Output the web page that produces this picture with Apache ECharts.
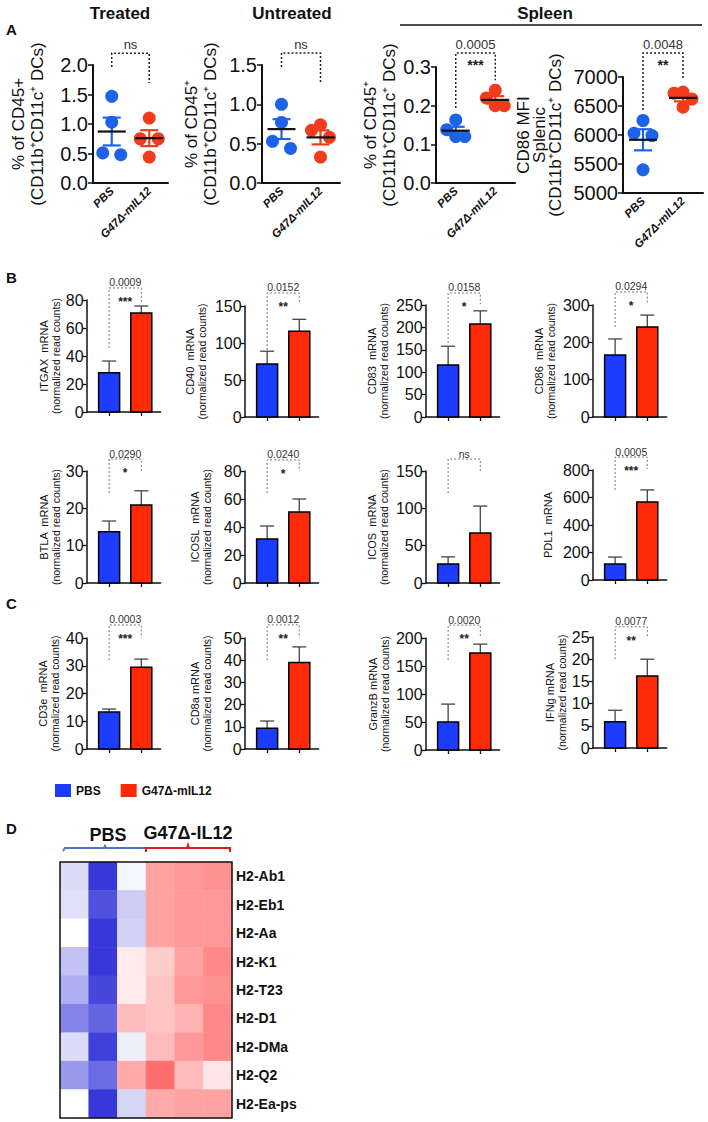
<!DOCTYPE html>
<html><head><meta charset="utf-8">
<script src="https://cdn.jsdelivr.net/npm/echarts@6/dist/echarts.min.js"></script>
<style>html,body{margin:0;padding:0;background:#fff}#c{width:708px;height:1122px}</style>
</head><body><div id="c"></div>
<script>
// ---------------- DATA ----------------
const groups = ['PBS', 'G47Δ-mIL12'];

// Panel A: individual mice
const aTitles = ['Treated', 'Untreated', 'Spleen'];
const aYNames = [
  '% of CD45+\n(CD11b⁺CD11c⁺ DCs)',
  '% of CD45⁺\n(CD11b⁺CD11c⁺ DCs)',
  '% of CD45⁺\n(CD11b⁺CD11c⁺ DCs)',
  'CD86 MFI\nSplenic\n(CD11b⁺CD11c⁺ DCs)'
];
const aPBS = [[1.47, 1.03, 0.51, 0.48], [1.0, 0.77, 0.53, 0.44], [0.163, 0.138, 0.12, 0.12], [6250, 6030, 5990, 5400]];
const aTrt = [[1.10, 0.75, 0.75, 0.44], [0.74, 0.67, 0.58, 0.33], [0.24, 0.22, 0.20, 0.20], [6740, 6720, 6620, 6480]];
const aMin = [0, 0, 0, 5000];
const aMax = [2, 1.5, 0.3, 7000];
const aInterval = [0.5, 0.5, 0.1, 500];
const aDecimals = [1, 1, 1, 0];
const aPText = ['', '', '0.0005', '0.0048'];
const aStars = ['ns', 'ns', '***', '**'];
const aBrTop = [2.2, 1.652, 0.336, 7414];
const aBrLeft = [1.966, 1.474, 0.194, 6431];
const aBrRight = [1.695, 1.27, 0.266, 6948];

// Panels B and C: mRNA bars (mean, upper error)
const genes = ['ITGAX', 'CD40', 'CD83', 'CD86', 'BTLA', 'ICOSL', 'ICOS', 'PDL1', 'CD3e', 'CD8a', 'GranzB', 'IFNg'];
const yNameLine1 = ['ITGAX  mRNA', 'CD40  mRNA', 'CD83  mRNA', 'CD86  mRNA', 'BTLA  mRNA', 'ICOSL  mRNA', 'ICOS  mRNA', 'PDL1  mRNA', 'CD3e  mRNA', 'CD8a mRNA', 'GranzB mRNA', 'IFNg mRNA'];
const yNameLine2 = ['(normalized read counts)', '(normalized read counts)', '(normalized read counts)', '(normalized read counts)', '(normalized read counts)', '(normalized read counts)', '(normalized read counts)', '', '(normalized read counts)', '(normalized read counts)', '(normalized read counts)', '(normalized read counts)'];
const pbsMean = [28, 71.5, 116, 166, 13.7, 31.4, 25.4, 116, 13.3, 9.4, 50, 5.9];
const pbsErr  = [8.4, 17.4, 42, 43, 2.9, 9.3, 9.6, 51, 1.1, 3.2, 32, 2.6];
const trtMean = [70.7, 116, 207.6, 241, 20.9, 50.7, 67, 567, 29.5, 39, 173, 16.2];
const trtErr  = [5.0, 16, 29.4, 32, 3.8, 9.3, 36, 88, 2.9, 7, 16, 3.8];
const yMax = [80, 150, 250, 300, 30, 80, 150, 800, 40, 50, 200, 25];
const yInterval = [20, 50, 50, 100, 10, 20, 50, 200, 10, 10, 50, 5];
const pText = ['0.0009', '0.0152', '0.0158', '0.0294', '0.0290', '0.0240', '', '0.0005', '0.0003', '0.0012', '0.0020', '0.0077'];
const stars = ['***', '**', '*', '*', '*', '*', 'ns', '***', '***', '**', '**', '**'];
const brTop = [88.6, 167.6, 276.8, 335, 33.2, 87.9, 166, 894, 44.7, 55.9, 223, 27.3];
const brLeft = [45.7, 90.5, 165, 241, 24.1, 64.3, 120.5, 654, 32, 40, 160.7, 20];
const brRight = [78.6, 152.7, 252, 303, 30, 80, 150, 807, 40, 50, 200, 25];

// Panel D: heatmap
const hmSamples = ['PBS 1', 'PBS 2', 'PBS 3', 'G47Δ-IL12 1', 'G47Δ-IL12 2', 'G47Δ-IL12 3'];
const hmGenes = ['H2-Ab1', 'H2-Eb1', 'H2-Aa', 'H2-K1', 'H2-T23', 'H2-D1', 'H2-DMa', 'H2-Q2', 'H2-Ea-ps'];
const hmValues = [
  [-0.17, -0.97, -0.05, 0.55, 0.60, 0.65],
  [-0.15, -0.85, -0.25, 0.55, 0.60, 0.60],
  [ 0.00, -0.97, -0.22, 0.55, 0.60, 0.60],
  [-0.30, -0.97,  0.12, 0.30, 0.55, 0.70],
  [-0.40, -0.90,  0.12, 0.35, 0.60, 0.65],
  [-0.60, -0.75,  0.40, 0.35, 0.45, 0.70],
  [-0.17, -0.93, -0.08, 0.40, 0.60, 0.70],
  [-0.50, -0.72,  0.50, 0.85, 0.40, 0.15],
  [ 0.00, -0.97, -0.20, 0.50, 0.55, 0.55]
];

// ---------------- STYLE / LAYOUT ----------------
const FONT = '"Liberation Sans", Arial, Helvetica, sans-serif';
const BAR_BLUE = '#1c3cff', BAR_RED = '#ff2a08';
const DOT_BLUE = '#1d63e8', DOT_RED = '#f03c1c';
const INK = '#111';
const aGrid = [
  {left: 93, top: 65, width: 75, height: 118},
  {left: 262, top: 65, width: 78, height: 118},
  {left: 436, top: 67, width: 79, height: 116},
  {left: 623, top: 77, width: 80, height: 116}
];
const aNameGap = [46, 42, 36, 60];
const aNameLH = [19, 19, 19, 16];
const colLeft = [86.6, 244.6, 425.6, 592.6];
const bTop = [300, 306, 305, 305, 471, 471, 471, 470, 638, 638, 638, 637];
const bBottom = [412, 417, 417, 417, 583, 583, 583, 580, 749, 749, 750, 748];
const bNameGap = [25, 37, 36, 36, 25, 32, 36, 39, 26, 32, 35, 25];

const grids = [], xAxes = [], yAxes = [], series = [];
function addGrid(g, x, y) {
  grids.push(g);
  const gi = grids.length - 1;
  x.gridIndex = gi; y.gridIndex = gi;
  xAxes.push(x); yAxes.push(y);
  return gi;
}

function bracketRenderer(pt, st, o) {
  return function (params, api) {
    const top = api.value(0), l = api.value(1), r = api.value(2);
    const p0 = api.coord([0, l]), p1 = api.coord([0, top]), p2 = api.coord([1, top]), p3 = api.coord([1, r]);
    const mx = (p1[0] + p2[0]) / 2;
    const ch = [{
      type: 'polyline',
      shape: {points: [p0, p1, p2, p3]},
      style: {stroke: o.stroke, lineWidth: o.lw, lineDash: o.dash, fill: null}
    }];
    if (pt) {
      ch.push({type: 'text', style: {x: mx, y: p1[1] - o.pGap, text: pt, align: 'center', verticalAlign: 'bottom',
        font: o.pFont, fill: '#333'}});
      ch.push({type: 'text', style: {x: mx, y: p1[1] + o.sGap, text: st, align: 'center', verticalAlign: 'middle',
        font: o.sFont, fill: '#222'}});
    } else {
      ch.push({type: 'text', style: {x: mx, y: p1[1] - o.pGap, text: st, align: 'center', verticalAlign: 'bottom',
        font: o.pFont, fill: '#333'}});
    }
    return {type: 'group', children: ch};
  };
}

// ---------- Panel A ----------
const DOT = 13, SPREAD = 9;
function swarmOffsets(vals, pxPerUnit) {
  const idx = vals.map((v, k) => k).sort((a, b) => vals[b] - vals[a]);
  const off = new Array(vals.length).fill(0);
  const clusters = [];
  let cl = [idx[0]];
  for (let k = 1; k < idx.length; k++) {
    if ((vals[idx[k - 1]] - vals[idx[k]]) * pxPerUnit < 12) cl.push(idx[k]);
    else { clusters.push(cl); cl = [idx[k]]; }
  }
  clusters.push(cl);
  clusters.forEach(c => {
    if (c.length === 2) { off[c[0]] = -SPREAD; off[c[1]] = SPREAD; }
    else if (c.length > 2) { const pat = [0, -SPREAD, SPREAD]; c.forEach((k, j) => { off[k] = pat[j % 3]; }); }
  });
  return off;
}
function meanSem(v) {
  const n = v.length, m = v.reduce((a, b) => a + b, 0) / n;
  const sd = Math.sqrt(v.reduce((a, b) => a + (b - m) * (b - m), 0) / (n - 1));
  return [m, sd / Math.sqrt(n)];
}

for (let i = 0; i < 4; i++) {
  const gi = addGrid(aGrid[i], {
    type: 'category', data: groups, boundaryGap: true,
    axisLine: {lineStyle: {color: INK, width: 2}},
    axisTick: {alignWithLabel: true, length: 5, lineStyle: {color: INK, width: 1.5}},
    axisLabel: {rotate: 45, interval: 0, fontSize: 11.5, fontWeight: 'bold', fontStyle: 'italic', color: INK, margin: 6, fontFamily: FONT}
  }, {
    type: 'value', min: aMin[i], max: aMax[i], interval: aInterval[i],
    axisLine: {show: true, onZero: false, lineStyle: {color: INK, width: 2}},
    axisTick: {show: true, length: 5, lineStyle: {color: INK, width: 1.5}},
    splitLine: {show: false},
    axisLabel: {fontSize: 20, color: INK, margin: 5, fontFamily: FONT, formatter: v => v.toFixed(aDecimals[i])},
    name: aYNames[i], nameLocation: 'middle', nameRotate: 90, nameGap: aNameGap[i],
    nameTextStyle: {fontSize: 17, lineHeight: aNameLH[i], color: INK, fontFamily: FONT, align: 'center'}
  });
  const ppu = aGrid[i].height / (aMax[i] - aMin[i]);
  [aPBS[i], aTrt[i]].forEach((vals, g) => {
    const off = swarmOffsets(vals, ppu);
    series.push({
      type: 'scatter', name: groups[g] + ' (mice)', xAxisIndex: gi, yAxisIndex: gi, symbolSize: DOT, z: 2,
      itemStyle: {color: g ? DOT_RED : DOT_BLUE, opacity: 1},
      data: vals.map((v, k) => ({value: [g, v], symbolOffset: [off[k], 0]}))
    });
  });
  const ms = [meanSem(aPBS[i]), meanSem(aTrt[i])];
  series.push({
    type: 'custom', xAxisIndex: gi, yAxisIndex: gi, z: 4, silent: true,
    data: ms.map((d, g) => [g, d[0], d[1]]),
    renderItem: function (params, api) {
      const x = api.value(0), m = api.value(1), s = api.value(2);
      const c = api.coord([x, m]), hi = api.coord([x, m + s]), lo = api.coord([x, m - s]);
      const col = params.dataIndex ? DOT_RED : DOT_BLUE;
      const st = {stroke: col, lineWidth: 2.2};
      return {type: 'group', children: [
        {type: 'line', shape: {x1: hi[0], y1: hi[1], x2: lo[0], y2: lo[1]}, style: st},
        {type: 'line', shape: {x1: hi[0] - 9, y1: hi[1], x2: hi[0] + 9, y2: hi[1]}, style: st},
        {type: 'line', shape: {x1: lo[0] - 9, y1: lo[1], x2: lo[0] + 9, y2: lo[1]}, style: st},
        {type: 'line', shape: {x1: c[0] - 14, y1: c[1], x2: c[0] + 14, y2: c[1]}, style: {stroke: INK, lineWidth: 2.2}}
      ]};
    }
  });
  series.push({
    type: 'custom', xAxisIndex: gi, yAxisIndex: gi, z: 5, silent: true,
    data: [[aBrTop[i], aBrLeft[i], aBrRight[i]]],
    renderItem: bracketRenderer(aPText[i], aStars[i], {stroke: '#222', lw: 1.5, dash: [2, 2], pGap: 2,
      pFont: '13px ' + FONT, sFont: 'bold 14px ' + FONT, sGap: 12})
  });
}

// ---------- Panels B & C ----------
function barRenderer(params, api) {
  const x = api.value(0), v = api.value(1), e = api.value(2);
  const base = api.coord([x, 0]), top = api.coord([x, v]), et = api.coord([x, v + e]);
  const w = 21;
  const es = {stroke: '#444', lineWidth: 1.3};
  return {type: 'group', children: [
    {type: 'line', shape: {x1: top[0], y1: top[1], x2: et[0], y2: et[1]}, style: es},
    {type: 'line', shape: {x1: et[0] - 7, y1: et[1], x2: et[0] + 7, y2: et[1]}, style: es},
    {type: 'rect', shape: {x: base[0] - w / 2, y: top[1], width: w, height: base[1] - top[1]},
      style: {fill: api.visual('color'), stroke: '#000', lineWidth: 1.5}}
  ]};
}

for (let i = 0; i < genes.length; i++) {
  const name = yNameLine2[i] ? '{a|' + yNameLine1[i] + '}\n{b|' + yNameLine2[i] + '}' : '{a|' + yNameLine1[i] + '}';
  const gi = addGrid({left: colLeft[i % 4], top: bTop[i], width: 74, height: bBottom[i] - bTop[i]}, {
    type: 'value', min: -0.7, max: 1.6,
    axisLine: {show: true, onZero: false, lineStyle: {color: INK, width: 1.5}},
    axisTick: {show: true, customValues: [0, 1], length: 4, lineStyle: {color: INK, width: 1.3}},
    axisLabel: {show: false}, splitLine: {show: false}
  }, {
    type: 'value', min: 0, max: yMax[i], interval: yInterval[i],
    axisLine: {show: true, onZero: false, lineStyle: {color: INK, width: 1.5}},
    axisTick: {show: true, length: 4, lineStyle: {color: INK, width: 1.3}},
    splitLine: {show: false},
    axisLabel: {fontSize: 16, color: INK, margin: 3, fontFamily: FONT},
    name: name, nameLocation: 'middle', nameRotate: 90, nameGap: bNameGap[i],
    nameTextStyle: {align: 'center', rich: {
      a: {fontSize: 11, lineHeight: 12, color: INK, fontFamily: FONT},
      b: {fontSize: 10.5, lineHeight: 12, color: INK, fontFamily: FONT}
    }}
  });
  series.push({type: 'custom', name: groups[0], xAxisIndex: gi, yAxisIndex: gi, z: 3, itemStyle: {color: BAR_BLUE},
    data: [[0, pbsMean[i], pbsErr[i]]], renderItem: barRenderer});
  series.push({type: 'custom', name: groups[1], xAxisIndex: gi, yAxisIndex: gi, z: 3, itemStyle: {color: BAR_RED},
    data: [[1, trtMean[i], trtErr[i]]], renderItem: barRenderer});
  series.push({type: 'custom', xAxisIndex: gi, yAxisIndex: gi, z: 4, silent: true,
    data: [[brTop[i], brLeft[i], brRight[i]]],
    renderItem: bracketRenderer(pText[i], stars[i], {stroke: '#777', lw: 1, dash: [2, 2], pGap: 0,
      pFont: '10.5px ' + FONT, sFont: 'bold 12px ' + FONT, sGap: 14})});
}

// ---------- Panel D heatmap ----------
const hmGrid = addGrid({left: 60, top: 862, width: 172, height: 256}, {
  type: 'category', data: hmSamples, show: false
}, {
  type: 'category', data: hmGenes, inverse: true, position: 'right',
  axisLine: {show: false}, axisTick: {show: false},
  axisLabel: {fontSize: 14, fontWeight: 'bold', color: INK, margin: 4, fontFamily: FONT}
});
const hmData = [];
hmValues.forEach((row, r) => row.forEach((v, c) => hmData.push([c, r, v])));
series.push({type: 'heatmap', name: 'MHC', xAxisIndex: hmGrid, yAxisIndex: hmGrid, data: hmData,
  itemStyle: {borderWidth: 0}, emphasis: {disabled: true}});
const hmSeriesIndex = series.length - 1;

// ---------- graphics (titles, letters, group brackets) ----------
function txt(x, y, t, font, align) {
  return {type: 'text', x: x, y: y, z: 20, style: {text: t, font: font, fill: INK, align: align || 'center', verticalAlign: 'middle'}};
}
const graphics = [
  txt(120, 13, aTitles[0], 'bold 17px ' + FONT),
  txt(292, 13, aTitles[1], 'bold 17px ' + FONT),
  txt(545, 13, aTitles[2], 'bold 17px ' + FONT),
  {type: 'line', z: 20, shape: {x1: 400, y1: 25, x2: 702, y2: 25}, style: {stroke: INK, lineWidth: 1.5}},
  txt(6, 29, 'A', 'bold 15px ' + FONT, 'left'),
  txt(6, 277, 'B', 'bold 15px ' + FONT, 'left'),
  txt(6, 603, 'C', 'bold 15px ' + FONT, 'left'),
  txt(6, 828, 'D', 'bold 15px ' + FONT, 'left'),
  txt(108, 835, 'PBS', 'bold 18px ' + FONT),
  txt(188, 833, 'G47Δ-IL12', 'bold 18px ' + FONT),
  {type: 'polyline', z: 20, shape: {points: [[63, 851], [65, 848], [104, 848], [105, 846], [106, 848], [145, 848]]},
    style: {stroke: '#4a78c8', lineWidth: 2, fill: null}},
  {type: 'polyline', z: 20, shape: {points: [[146, 852], [146, 848], [187, 848], [188, 845], [189, 848], [230, 848], [230, 852]]},
    style: {stroke: '#e21a1a', lineWidth: 2, fill: null}},
  {type: 'rect', z: 20, shape: {x: 60, y: 862, width: 172, height: 256}, style: {stroke: INK, lineWidth: 1.5, fill: null}}
];

const chart = echarts.init(document.getElementById('c'), null, {renderer: 'svg', width: 708, height: 1122});
chart.setOption({
  animation: false,
  backgroundColor: '#fff',
  textStyle: {fontFamily: FONT},
  grid: grids.map(g => Object.assign({containLabel: false}, g)),
  xAxis: xAxes,
  yAxis: yAxes,
  visualMap: {type: 'continuous', show: false, min: -1, max: 1, seriesIndex: hmSeriesIndex,
    inRange: {color: ['#3232d8', '#ffffff', '#ff5555']}},
  legend: {left: 50, top: 779, itemWidth: 16, itemHeight: 13, itemGap: 20, icon: 'rect', selectedMode: false,
    data: [{name: groups[0], itemStyle: {color: BAR_BLUE}}, {name: groups[1], itemStyle: {color: BAR_RED}}],
    textStyle: {fontSize: 12, fontWeight: 'bold', color: INK, fontFamily: FONT}},
  graphic: graphics,
  series: series
});
</script>
</body></html>
